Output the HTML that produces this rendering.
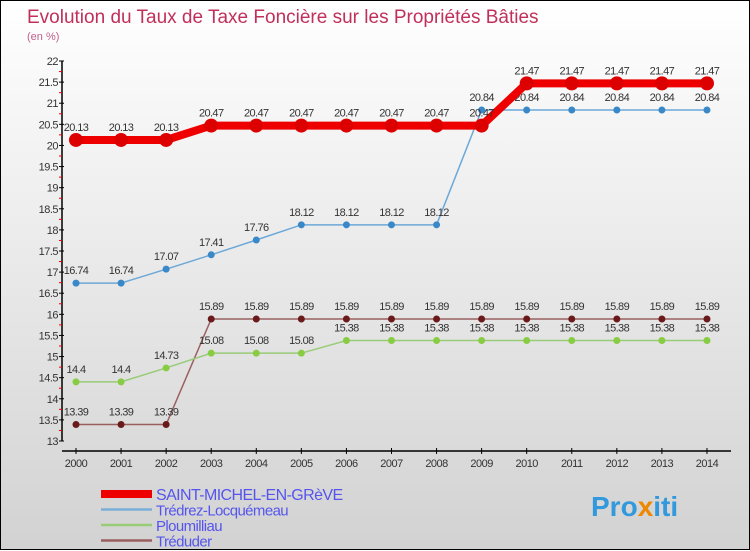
<!DOCTYPE html>
<html><head><meta charset="utf-8"><style>
body{margin:0;width:750px;height:550px;overflow:hidden;font-family:"Liberation Sans",sans-serif}
#wrap{position:relative;width:748px;height:548px;border:1px solid #000;background:linear-gradient(#ffffff,#d2d2d2)}
svg{position:absolute;left:0;top:0}
</style></head><body>
<div id="wrap">
<svg id="c" width="750" height="550">
<text x="26" y="22" font-size="19" fill="#c0305a">Evolution du Taux de Taxe Foncière sur les Propriétés Bâties</text>
<text x="26" y="39" font-size="11" fill="#c0608a">(en %)</text>
<text x="590" y="515" font-size="28" font-weight="bold" fill="#3399dd">Pro<tspan fill="#ee8800">x</tspan>iti</text>
</svg></div>
<script>
const years=[2000,2001,2002,2003,2004,2005,2006,2007,2008,2009,2010,2011,2012,2013,2014];
const saint=[20.13,20.13,20.13,20.47,20.47,20.47,20.47,20.47,20.47,20.47,21.47,21.47,21.47,21.47,21.47];
const tredrez=[16.74,16.74,17.07,17.41,17.76,18.12,18.12,18.12,18.12,20.84,20.84,20.84,20.84,20.84,20.84];
const ploum=[14.4,14.4,14.73,15.08,15.08,15.08,15.38,15.38,15.38,15.38,15.38,15.38,15.38,15.38,15.38];
const tred=[13.39,13.39,13.39,15.89,15.89,15.89,15.89,15.89,15.89,15.89,15.89,15.89,15.89,15.89,15.89];
const yTicks=[13,13.5,14,14.5,15,15.5,16,16.5,17,17.5,18,18.5,19,19.5,20,20.5,21,21.5,22];
const NS='http://www.w3.org/2000/svg';
const svg=document.getElementById('c');
const X=i=>75+i*45.07;
const Y=v=>440-(v-13)*(380/9);
function el(t,a,p){const e=document.createElementNS(NS,t);for(const k in a)e.setAttribute(k,a[k]);(p||svg).appendChild(e);return e;}
const ax=el('g',{});


const yl=el('line',{x1:61,y1:Y(22),x2:61,y2:Y(13),stroke:'#000','stroke-width':1.5},ax);


const xl=el('line',{x1:61,y1:450,x2:730,y2:450,stroke:'#000','stroke-width':1.5},ax);


yTicks.forEach((v,i)=>{
 el('line',{x1:58,y1:Y(v),x2:63,y2:Y(v),stroke:'#000'},ax);
 if(i<yTicks.length-1) el('line',{x1:58,y1:Y(v+0.25),x2:61,y2:Y(v+0.25),stroke:'#e00'},ax);
 const t=el('text',{x:57,y:Y(v)+4,'font-size':11,'text-anchor':'end',fill:'#333','letter-spacing':'-0.5'},ax);
 
 
 t.textContent=String(v);
});
years.forEach((y,i)=>{
 el('line',{x1:X(i),y1:447,x2:X(i),y2:453,stroke:'#000'},ax);
 const t=el('text',{x:X(i),y:466,'font-size':11,'text-anchor':'middle',fill:'#333','letter-spacing':'-0.5'},ax);
 
 
 t.textContent=String(y);
});
function series(data,color,dot,w,r,name){
 const g=el('g',{});
 
 
 el('polyline',{points:data.map((v,i)=>X(i)+','+Y(v)).join(' '),fill:'none',stroke:color,'stroke-width':w},g);
 data.forEach((v,i)=>{
  const c=el('circle',{cx:X(i),cy:Y(v),r:r,fill:dot},g);
  
  
  const t=el('text',{x:X(i),y:Y(v)-9,'font-size':11,'text-anchor':'middle',fill:'#333','letter-spacing':'-0.6'},g);
  
  
  t.textContent=String(v);
 });
}
series(tred,'#9a6060','#6a1a1a',1.5,3.5,'treduder-series');
series(ploum,'#99cc77','#88cc44',1.5,3.5,'ploumilliau-series');
series(tredrez,'#6ca8d8','#3a88c8',1.5,3.5,'tredrez-series');
series(saint,'#ee0000','#dd0000',8,7,'saint-michel-series');
const leg=[['SAINT-MICHEL-EN-GRèVE','#ee0000',8],['Trédrez-Locquémeau','#7ab0d8',2.5],['Ploumilliau','#99cc77',2.5],['Tréduder','#9a6060',2.5]];
leg.forEach((l,i)=>{
 const g=el('g',{});
 
 
 const y=493+i*15.5;
 el('line',{x1:100,y1:y,x2:151,y2:y,stroke:l[1],'stroke-width':l[2]},g);
 const t=el('text',{x:155,y:y+6,'font-size':i==0?16:15,fill:'#5555ee','letter-spacing':'-0.6'},g);
 t.textContent=l[0];
});
</script>
</body></html>
